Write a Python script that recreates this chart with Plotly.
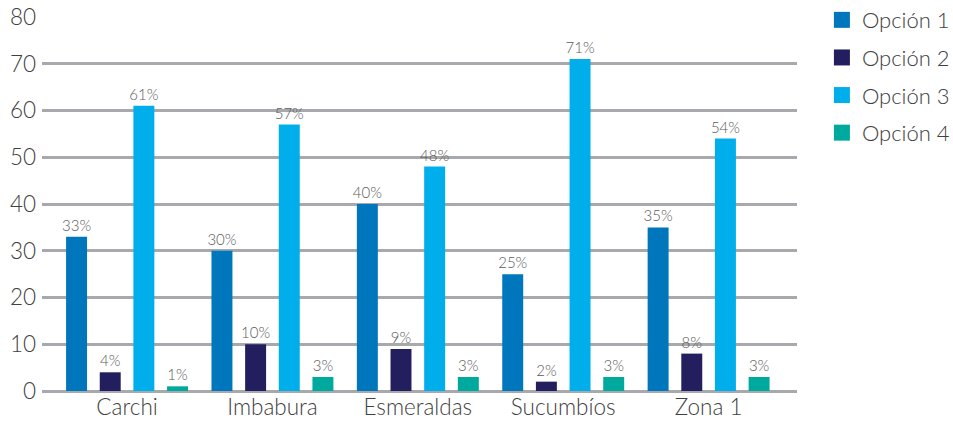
import plotly.graph_objects as go

# Regions and answer options
regions = ["Carchi", "Imbabura", "Esmeraldas", "Sucumbíos", "Zona 1"]
series_names = ["Opción 1", "Opción 2", "Opción 3", "Opción 4"]
opcion_1 = [33, 30, 40, 25, 35]
opcion_2 = [4, 10, 9, 2, 8]
opcion_3 = [61, 57, 48, 71, 54]
opcion_4 = [1, 3, 3, 3, 3]
series_values = [opcion_1, opcion_2, opcion_3, opcion_4]
colors = ["#0077BD", "#231F5E", "#00AEEB", "#00A99D"]
y_ticks = [0, 10, 20, 30, 40, 50, 60, 70, 80]

FONT = "Lato, 'Open Sans', sans-serif"

fig = go.Figure()
for name, vals, col in zip(series_names, series_values, colors):
    fig.add_trace(go.Bar(
        x=regions, y=vals, name=name,
        marker=dict(color=col, line=dict(width=0)),
        text=[f"{v}%" for v in vals],
        textposition="outside",
        constraintext="none",
        textfont=dict(family=FONT, size=15, color="#5A5A5A", weight=300),
        cliponaxis=False,
        showlegend=False,
    ))

# Legend entries with larger square swatches
for name, col in zip(series_names, colors):
    fig.add_trace(go.Scatter(
        x=[None], y=[None], mode="markers", name=name, legendgroup=name,
        marker=dict(symbol="square", size=16, color=col),
        showlegend=True,
    ))

fig.update_layout(
    width=953, height=422,
    margin=dict(l=42, r=156, t=17, b=31, autoexpand=False),
    paper_bgcolor="white", plot_bgcolor="white",
    barmode="group", bargap=0.074, bargroupgap=0.377,
    font=dict(family=FONT, color="#404040", weight=300),
    legend=dict(
        x=1.033, y=1.048, xanchor="left", yanchor="top",
        font=dict(family=FONT, size=22, color="#404040", weight=300),
        itemwidth=30, tracegroupgap=6, bgcolor="rgba(0,0,0,0)",
    ),
    xaxis=dict(
        range=[-0.585, 4.608], showgrid=False, zeroline=False,
        showline=False, ticks="", automargin=False,
        tickfont=dict(family=FONT, size=22.5, color="#404040", weight=300),
    ),
    yaxis=dict(
        range=[0, 80], tickvals=y_ticks, showgrid=True,
        gridcolor="#A7A9AC", gridwidth=2.5,
        zeroline=True, zerolinecolor="#A7A9AC", zerolinewidth=2.5,
        showline=False, ticks="", ticklabelstandoff=5, automargin=False,
        tickfont=dict(family=FONT, size=22.5, color="#404040", weight=300),
    ),
)

fig.write_html("out.html")
